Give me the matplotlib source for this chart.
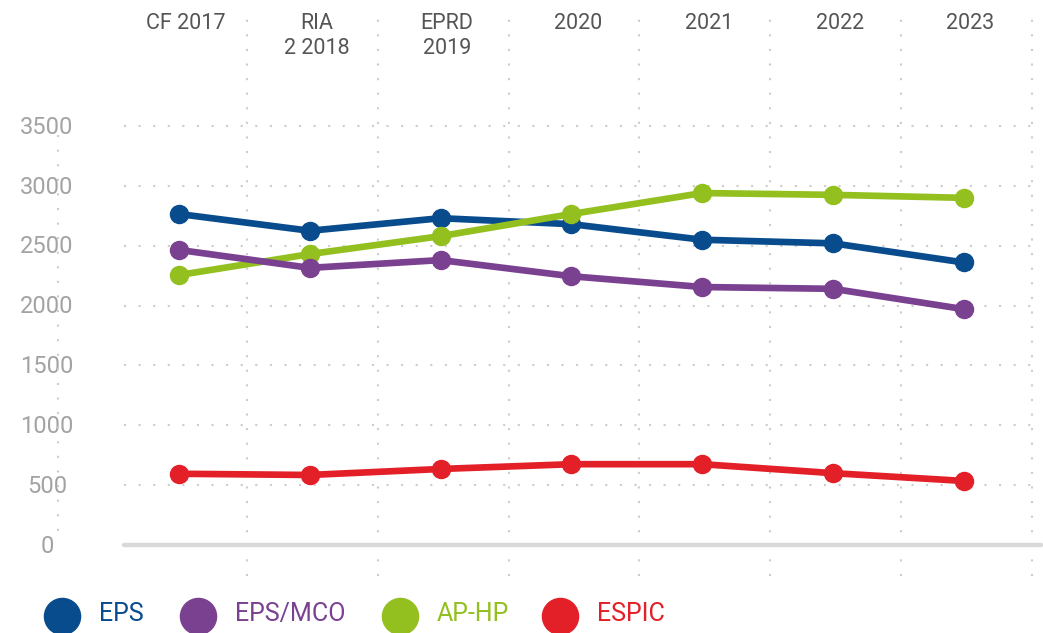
import matplotlib.pyplot as plt
import matplotlib.transforms as mtransforms
from matplotlib.lines import Line2D
import numpy as np

plt.rcParams['font.family'] = ['Roboto', 'DejaVu Sans']

# data
categories = ["CF 2017", "RIA\n2 2018", "EPRD\n2019", "2020", "2021", "2022", "2023"]
eps = [2765, 2625, 2730, 2680, 2550, 2520, 2360]
eps_mco = [2465, 2315, 2380, 2245, 2155, 2140, 1970]
ap_hp = [2255, 2430, 2580, 2765, 2940, 2925, 2900]
espic = [595, 585, 635, 675, 675, 600, 535]
y_ticks = [0, 500, 1000, 1500, 2000, 2500, 3000, 3500]

series = [
    ("EPS", eps, "#084c8d"),
    ("AP-HP", ap_hp, "#93c01f"),
    ("EPS/MCO", eps_mco, "#7b4191"),
    ("ESPIC", espic, "#e32028"),
]
legend_order = ["EPS", "EPS/MCO", "AP-HP", "ESPIC"]

W, H = 1043, 633
fig = plt.figure(figsize=(W / 100, H / 100), dpi=100)
ax = fig.add_axes([124 / W, (H - 576) / H, (1032 - 124) / W, (576 - 5) / H])
x = np.arange(len(categories))
xmin, xmax = -0.42, 6.52
ax.set_xlim(xmin, xmax)
ax.set_ylim(-259, 4511)
ax.axis("off")

dot = (0, (1, 6))
grid_col = "#cdcdcd"
# horizontal dotted grid
ax.hlines(y_ticks[1:], xmin, xmax, colors=grid_col, lw=1.5, linestyles=[dot])
# vertical dotted grid (category boundaries)
ax.vlines(x + 0.52, -259, 4480, colors=grid_col, lw=1.5, linestyles=[dot],
          clip_on=False)
# left dotted line under the y labels
fig.add_artist(Line2D([58 / W, 58 / W], [(H - 135) / H, (H - 535) / H],
                      color=grid_col, lw=1.5, linestyle=dot))
# baseline
fig.add_artist(Line2D([124 / W, 1041 / W], [(H - 545) / H] * 2,
                      color="#d9d9d9", lw=3.2, solid_capstyle="round"))

for name, vals, col in series:
    ax.plot(x, vals, color=col, lw=4.8, marker="o", ms=13,
            solid_joinstyle="round", clip_on=False)

# y labels
ytr = mtransforms.blended_transform_factory(fig.transFigure, ax.transData)
for v in y_ticks:
    ax.text(47 / W, v - 10, str(v), transform=ytr, ha="center", va="center",
            fontsize=17, color="#a3a3a3")

# category labels on top
xtr = mtransforms.blended_transform_factory(ax.transData, fig.transFigure)
for i, lab in enumerate(categories):
    ax.text(i + 0.05, (H - 13) / H, lab, transform=xtr, ha="center", va="top",
            fontsize=15.5, color="#555555", linespacing=1.25)

# legend
colors = {n: c for n, _, c in series}
leg_x = [62, 198, 400, 560]
for lx, name in zip(leg_x, legend_order):
    fig.add_artist(Line2D([lx / W], [(H - 616) / H], marker="o", ms=26,
                          color=colors[name], lw=0))
    fig.text((lx + 37) / W, (H - 614) / H, name, ha="left", va="center",
             fontsize=18, color=colors[name])

fig.savefig("out.png", dpi=100)
